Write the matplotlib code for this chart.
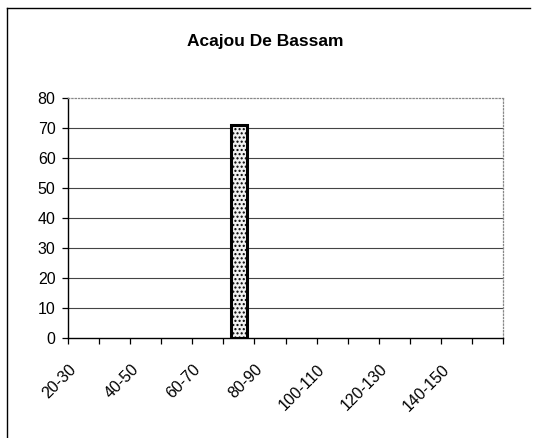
import matplotlib.pyplot as plt
import matplotlib.transforms as mtransforms
import numpy as np

# ====================== DATA ======================
categories = ['20-30', '30-40', '40-50', '50-60', '60-70', '70-80', '80-90',
              '90-100', '100-110', '110-120', '120-130', '130-140', '140-150', '150-160']
values = [0, 0, 0, 0, 0, 71, 0, 0, 0, 0, 0, 0, 0, 0]
title = 'Acajou De Bassam'
yticks = [0, 10, 20, 30, 40, 50, 60, 70, 80]

plt.rcParams['font.family'] = ['Liberation Sans', 'DejaVu Sans']
plt.rcParams['hatch.color'] = '#9a9a9a'

# ====================== PLOT ======================
fig = plt.figure(figsize=(5.33, 4.38), dpi=100)
ax = fig.add_axes([0.1276, 0.2283, 0.8161, 0.548])

x = np.arange(len(categories))
lws = [2.2 if v > 0 else 0 for v in values]
ax.bar(x, values, width=0.5, color='#f2f2f2', edgecolor='black',
       linewidth=lws, hatch='....', zorder=3)

ax.set_xlim(-0.5, len(categories) - 0.5)
ax.set_ylim(0, 80)
ax.set_yticks(yticks)
ax.tick_params(axis='y', labelsize=11.5, length=4, width=0.9, direction='out', pad=5)

# ticks at category boundaries, labels on every other category
ax.set_xticks(np.arange(len(categories) + 1) - 0.5)
ax.set_xticklabels([])
ax.tick_params(axis='x', which='major', length=4, width=0.9, direction='out')
ax.set_xticks(x[::2], minor=True)
ax.set_xticklabels(categories[::2], minor=True, rotation=45, ha='right',
                   rotation_mode='anchor', fontsize=11.5)
ax.tick_params(axis='x', which='minor', length=0, pad=17)
shift = mtransforms.ScaledTranslation(-15 / 100, 0, fig.dpi_scale_trans)
for lbl in ax.get_xticklabels(minor=True):
    lbl.set_transform(lbl.get_transform() + shift)

# gridlines
for y in yticks[1:-1]:
    ax.axhline(y, color='#444444', linewidth=0.8, zorder=1)

for side in ['top', 'right']:
    ax.spines[side].set_linestyle(':')
    ax.spines[side].set_color('#888888')
    ax.spines[side].set_linewidth(0.9)
ax.spines['left'].set_linewidth(1.0)
ax.spines['bottom'].set_linewidth(1.0)

fig.text(0.497, 0.905, title, ha='center', va='center', fontsize=12.5,
         fontweight='bold')

# outer chart frame
fig.add_artist(plt.Line2D([0.013, 0.995], [0.982, 0.982], color='black',
                          linewidth=1.0, transform=fig.transFigure))
fig.add_artist(plt.Line2D([0.013, 0.013], [0.0, 0.982], color='black',
                          linewidth=1.0, transform=fig.transFigure))

plt.savefig('out.png', dpi=100)
